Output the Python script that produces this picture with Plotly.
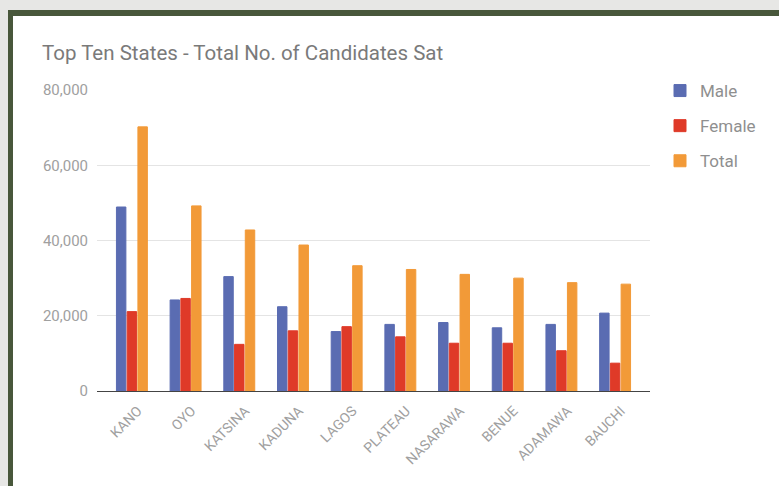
import plotly.graph_objects as go

states = ["KANO", "OYO", "KATSINA", "KADUNA", "LAGOS", "PLATEAU", "NASARAWA", "BENUE", "ADAMAWA", "BAUCHI"]
male = [48900, 24200, 30400, 22400, 15800, 17700, 18200, 16800, 17700, 20700]
female = [21100, 24600, 12400, 16000, 17100, 14400, 12700, 12700, 10700, 7400]
total = [70200, 49200, 42800, 38800, 33300, 32300, 31000, 30000, 28800, 28400]
y_ticks = [0, 20000, 40000, 60000, 80000]
y_tick_text = ["0", "20,000", "40,000", "60,000", "80,000"]

W, H = 779, 486
L, R, T, B = 97, 129, 90, 95
pw, ph = W - L - R, H - T - B

def px(x):
    return (x - L) / pw

def py(y):
    return (H - B - y) / ph

fig = go.Figure()
fig.add_bar(x=states, y=male, name="Male", marker_color="#5a6cb2",
            marker_line=dict(color="#5a6cb2", width=1), legendgroup="m")
fig.add_bar(x=states, y=female, name="Female", marker_color="#df3a28",
            marker_line=dict(color="#df3a28", width=1), legendgroup="f")
fig.add_bar(x=states, y=total, name="Total", marker_color="#f29a38",
            marker_line=dict(color="#f29a38", width=1), legendgroup="t")

shapes = [
    dict(type="rect", xref="paper", yref="paper", x0=px(-20), x1=px(8), y0=py(600), y1=py(-20),
         fillcolor="#e7e7e5", line_width=0, layer="above"),
    dict(type="rect", xref="paper", yref="paper", x0=px(-20), x1=px(900), y0=py(10), y1=py(-20),
         fillcolor="#e7e7e5", line_width=0, layer="above"),
    dict(type="rect", xref="paper", yref="paper", x0=px(8), x1=px(13), y0=py(600), y1=py(10),
         fillcolor="#48573b", line_width=0, layer="above"),
    dict(type="rect", xref="paper", yref="paper", x0=px(8), x1=px(900), y0=py(16), y1=py(10),
         fillcolor="#48573b", line_width=0, layer="above"),
]

fig.update_layout(
    width=W, height=H,
    margin=dict(l=L, r=R, t=T, b=B),
    paper_bgcolor="white", plot_bgcolor="white",
    font=dict(family="Roboto, Arial, sans-serif", color="#8a8a8a"),
    title=dict(text="Top Ten States - Total No. of Candidates Sat",
               x=42 / W, xref="container", xanchor="left",
               y=1 - 53 / H, yref="container", yanchor="middle",
               font=dict(size=20.5, color="#7a7a7a")),
    barmode="group", bargap=0.4, bargroupgap=0.12,
    showlegend=True,
    legend=dict(x=px(660), y=py(73), xanchor="left", yanchor="top",
                font=dict(size=17, color="#8f8f8f"), tracegroupgap=10,
                bgcolor="rgba(0,0,0,0)"),
    shapes=shapes,
    xaxis=dict(range=[-0.65, 9.65], tickangle=-45, tickfont=dict(size=14, color="#a0a0a0"),
               showgrid=False, ticks="", showline=False, ticklabelstandoff=8,
               ticklabelshift=6),
    yaxis=dict(range=[0, 80000], tickvals=y_ticks, ticktext=y_tick_text,
               tickfont=dict(size=15, color="#a0a0a0"),
               gridcolor="#e4e4e4", gridwidth=1, zeroline=True, zerolinecolor="#444444",
               zerolinewidth=1, ticks="", ticklabelstandoff=8),
)

fig.write_html("out.html", config={"displayModeBar": False},
               post_script="document.body.style.margin='0';document.body.style.overflow='hidden';")
